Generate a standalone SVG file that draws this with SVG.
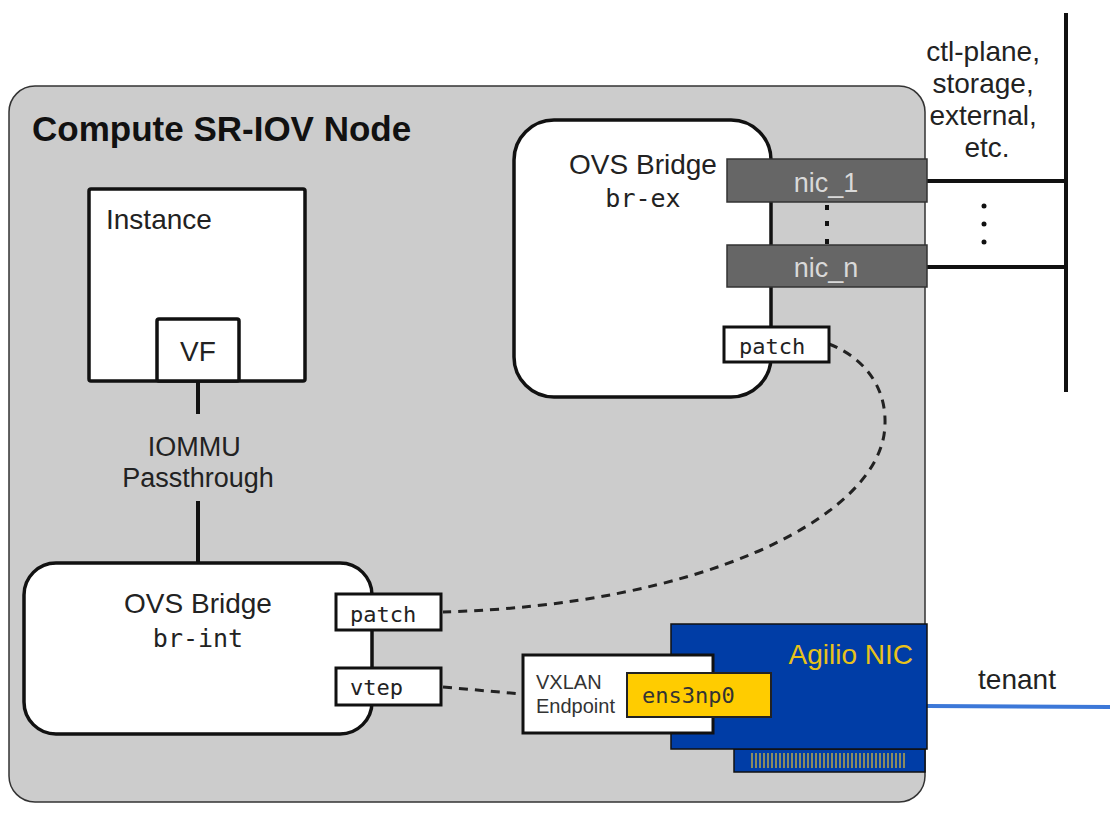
<svg xmlns="http://www.w3.org/2000/svg" width="1110" height="839" viewBox="0 0 1110 839">
<style>
.sans{font-family:"Liberation Sans",Arial,sans-serif;fill:#222}
.mono{font-family:"DejaVu Sans Mono","Liberation Mono",monospace;fill:#222}
.box{fill:#fff;stroke:#111;stroke-width:3.5}
.port{fill:#fff;stroke:#111;stroke-width:3}
.nic{fill:#666;stroke:#333;stroke-width:1.5}
.nictext{font-family:"Liberation Sans",Arial,sans-serif;fill:#d9d9d9;font-size:27px;text-anchor:middle}
.solid{stroke:#111;stroke-width:4;fill:none}
.dash{stroke:#222;stroke-width:3;fill:none;stroke-dasharray:9 7}
</style>
<rect width="1110" height="839" fill="#fff"/>
<g id="compute-node">
  <rect x="9" y="86" width="916" height="716" rx="26" fill="#cccccc" stroke="#333" stroke-width="1.5"/>
  <text x="32" y="141" class="sans" font-size="35" font-weight="bold" style="fill:#111">Compute SR-IOV Node</text>
</g>
<g id="network-bus">
  <line x1="1066" y1="13" x2="1066" y2="392" class="solid" stroke-width="5"/>
  <text class="sans" font-size="28" text-anchor="middle">
    <tspan x="987" y="61">ctl-plane,</tspan>
    <tspan x="987" y="93">storage,</tspan>
    <tspan x="987" y="125">external,</tspan>
    <tspan x="987" y="157">etc.</tspan>
  </text>
  <circle cx="984" cy="206" r="2.5" fill="#111"/>
  <circle cx="984" cy="224" r="2.5" fill="#111"/>
  <circle cx="984" cy="242" r="2.5" fill="#111"/>
</g>
<g id="connectors">
  <line x1="927" y1="181" x2="1066" y2="181" class="solid"/>
  <line x1="927" y1="267" x2="1066" y2="267" class="solid"/>
  <line x1="198" y1="381" x2="198" y2="414" class="solid"/>
  <line x1="198" y1="501" x2="198" y2="563" class="solid"/>
  <path d="M829,344 C870,360 890,395 884,435 C870,520 700,605 443,612" class="dash"/>
  <path d="M443,687 L521,694" class="dash"/>
  <line x1="927" y1="706" x2="1110" y2="707" stroke="#3c78d8" stroke-width="4"/>
</g>
<g id="instance">
  <rect x="89" y="189" width="216" height="192" class="box" rx="2"/>
  <text x="106" y="229" class="sans" font-size="28">Instance</text>
</g>
<g id="vf">
  <rect x="157" y="319" width="82" height="62" class="box" rx="2"/>
  <text x="198" y="361" class="sans" font-size="28" text-anchor="middle">VF</text>
</g>
<g id="iommu-label">
  <text class="sans" font-size="27" text-anchor="middle">
    <tspan x="198" y="456">IOMMU</tspan>
    <tspan x="198" y="487">Passthrough</tspan>
  </text>
</g>
<g id="br-ex">
  <rect x="514" y="120" width="257" height="277" rx="40" class="box"/>
  <text x="643" y="174" class="sans" font-size="28" text-anchor="middle">OVS Bridge</text>
  <text x="643" y="207" class="mono" font-size="25" text-anchor="middle">br-ex</text>
</g>
<g id="nic_1">
  <rect x="727" y="159" width="200" height="43" class="nic"/>
  <text x="826" y="192" class="nictext">nic_1</text>
</g>
<g id="nic-dots">
  <rect x="825" y="205" width="4" height="5" fill="#111"/>
  <rect x="825" y="221" width="4" height="5" fill="#111"/>
  <rect x="825" y="239" width="4" height="5" fill="#111"/>
</g>
<g id="nic_n">
  <rect x="727" y="245" width="200" height="42" class="nic"/>
  <text x="826" y="277" class="nictext">nic_n</text>
</g>
<g id="br-ex-patch">
  <rect x="724" y="327" width="105" height="35" class="port"/>
  <text x="739" y="354" class="mono" font-size="22">patch</text>
</g>
<g id="br-int">
  <rect x="24" y="563" width="348" height="171" rx="32" class="box"/>
  <text x="198" y="613" class="sans" font-size="28" text-anchor="middle">OVS Bridge</text>
  <text x="198" y="647" class="mono" font-size="25" text-anchor="middle">br-int</text>
</g>
<g id="br-int-patch">
  <rect x="336" y="594" width="105" height="36" class="port"/>
  <text x="350" y="622" class="mono" font-size="22">patch</text>
</g>
<g id="br-int-vtep">
  <rect x="336" y="668" width="105" height="37" class="port"/>
  <text x="350" y="695" class="mono" font-size="22">vtep</text>
</g>
<g id="agilio-nic">
  <rect x="734" y="749" width="191" height="23" fill="#003da6" stroke="#111" stroke-width="1.5"/>
  <path d="M752,753 V768 M756,753 V768 M760,753 V768 M764,753 V768 M768,753 V768 M772,753 V768 M776,753 V768 M780,753 V768 M784,753 V768 M788,753 V768 M792,753 V768 M796,753 V768 M800,753 V768 M804,753 V768 M808,753 V768 M812,753 V768 M816,753 V768 M820,753 V768 M824,753 V768 M828,753 V768 M832,753 V768 M836,753 V768 M840,753 V768 M844,753 V768 M848,753 V768 M852,753 V768 M856,753 V768 M860,753 V768 M864,753 V768 M868,753 V768 M872,753 V768 M876,753 V768 M880,753 V768 M884,753 V768 M888,753 V768 M892,753 V768 M896,753 V768 M900,753 V768 M904,753 V768" stroke="#b8a64a" stroke-width="1.5"/>
  <rect x="671" y="624" width="256" height="125" fill="#003da6" stroke="#111" stroke-width="1.5"/>
  <text x="913" y="664" class="sans" font-size="28" text-anchor="end" style="fill:#e8c21a">Agilio NIC</text>
</g>
<g id="vxlan-endpoint">
  <rect x="523" y="655" width="190" height="78" class="port"/>
  <text class="sans" font-size="20" style="fill:#333">
    <tspan x="536" y="689">VXLAN</tspan>
    <tspan x="536" y="713">Endpoint</tspan>
  </text>
</g>
<g id="ens3np0">
  <rect x="627" y="673" width="144" height="44" fill="#ffcc00" stroke="#222" stroke-width="2"/>
  <text x="642" y="703" class="mono" font-size="22" style="fill:#333">ens3np0</text>
</g>
<g id="tenant-label">
  <text x="1017" y="689" class="sans" font-size="28" text-anchor="middle">tenant</text>
</g>
</svg>
